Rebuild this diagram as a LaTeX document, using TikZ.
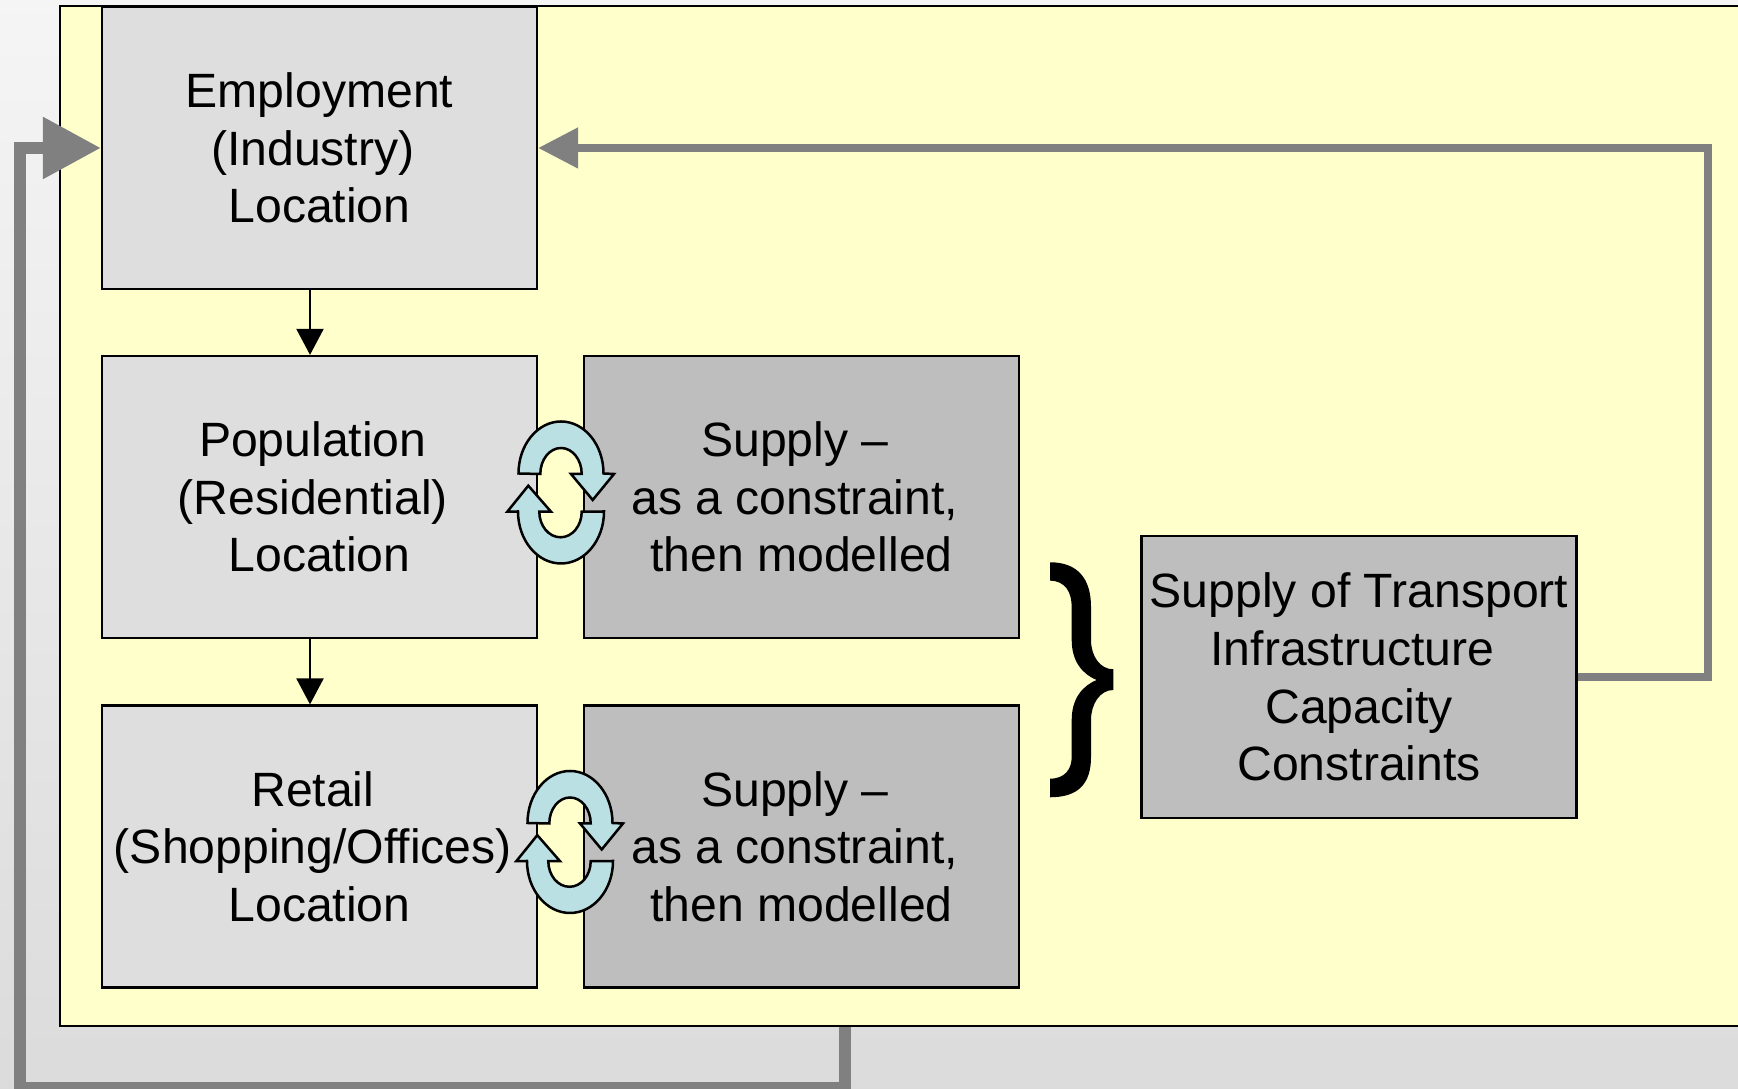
\documentclass[tikz,border=0pt]{standalone}
\usepackage{fontspec}
\setmainfont{Liberation Sans}
\usetikzlibrary{arrows.meta}
\definecolor{framefill}{HTML}{FFFFCC}
\definecolor{lightbox}{HTML}{DEDEDE}
\definecolor{darkbox}{HTML}{BEBEBE}
\definecolor{loopgrey}{HTML}{808080}
\definecolor{cyclefill}{HTML}{BBE0E3}
\newcommand{\trail}[1]{\mbox{#1\kern0.278em}}
\tikzset{
  labelbox/.style={draw=black,line width=0.22mm,minimum width=4.35cm,minimum height=2.82cm,inner sep=0pt,align=center,
    font=\fontsize{13.7}{16.4}\selectfont},
  landuse/.style={labelbox,fill=lightbox},
  supply/.style={labelbox,fill=darkbox},
  downarrow/.style={line width=0.22mm,-{Triangle[length=2.6mm,width=2.7mm]}},
  loopnarrow/.style={draw=loopgrey,line width=0.8mm,-{Triangle[length=4mm,width=3.9mm]},color=loopgrey},
  loopwide/.style={draw=loopgrey,line width=1.2mm,-{Triangle[length=5.8mm,width=5.9mm]},color=loopgrey},
  cyclearrows/.pic={
    \draw[fill=cyclefill,line width=0.25mm,line join=miter] (-.425,.19)
      arc[start angle=180,end angle=0,x radius=.425,y radius=.52]
      -- (.53,.185) -- (.317,-.075) -- (.10,.185) -- (.207,.185)
      arc[start angle=0,end angle=180,x radius=.207,y radius=.26] -- cycle;
    \draw[fill=cyclefill,line width=0.25mm,line join=miter] (.43,-.19)
      arc[start angle=0,end angle=-180,x radius=.43,y radius=.52]
      -- (-.537,-.192) -- (-.327,.068) -- (-.10,-.192) -- (-.217,-.192)
      arc[start angle=180,end angle=360,x radius=.212,y radius=.256] -- cycle;
  }
}
\begin{document}
\begin{tikzpicture}
  \useasboundingbox (0,0) rectangle (17.38,10.89);
  \shade[top color=white!96!black,bottom color=white!86!black] (0,0) rectangle (17.38,10.89);
  \node[draw=black,line width=0.25mm,fill=framefill,minimum width=18cm,minimum height=10.2cm,inner sep=0pt] (frame) at (9.6,5.73) {};

  \node[landuse] (employment) at (3.195,9.41) {Employment\\\trail{(Industry)}\\Location};
  \node[landuse] (population) at (3.195,5.92) {\trail{Population}\\\trail{(Residential)}\\Location};
  \node[landuse] (retail) at (3.195,2.425) {\trail{Retail}\\\trail{(Shopping/Offices)}\\Location};
  \node[supply] (supplypop) at (8.015,5.92) {\trail{Supply --}\\\trail{as a constraint,}\\then modelled};
  \node[supply] (supplyret) at (8.015,2.425) {\trail{Supply --}\\\trail{as a constraint,}\\then modelled};
  \node[supply] (transport) at (13.59,4.12) {Supply of Transport\\\trail{Infrastructure}\\Capacity\\Constraints};

  \coordinate (downx) at (3.10,0);
  \draw[downarrow] (employment.south -| downx) -- (population.north -| downx);
  \draw[downarrow] (population.south -| downx) -- (retail.north -| downx);

  \coordinate (rightturn) at (17.08,4.12);
  \draw[loopnarrow] (transport.east) -- (rightturn) |- (employment.east);
  \coordinate (tap) at (8.45,0.01);
  \coordinate (corner) at (.195,0.01);
  \draw[loopwide] (frame.south -| tap) -- (tap) -- (corner) |- (employment.west);

  \pic at (5.61,5.965) {cyclearrows};
  \pic at (5.70,2.47) {cyclearrows};

  \fill[black] (10.50,5.267) .. controls (10.78,5.267) and (10.91,5.1) .. (10.91,4.82)
    -- (10.91,4.49) .. controls (10.91,4.33) and (11.0,4.197) .. (11.133,4.197)
    -- (11.133,3.99) .. controls (11.0,3.99) and (10.91,3.85) .. (10.91,3.69)
    -- (10.91,3.32) .. controls (10.91,3.05) and (10.78,2.917) .. (10.50,2.917)
    -- (10.50,3.103) .. controls (10.65,3.103) and (10.717,3.2) .. (10.717,3.32)
    -- (10.717,3.69) .. controls (10.717,3.9) and (10.82,4.03) .. (10.967,4.09)
    .. controls (10.82,4.15) and (10.717,4.28) .. (10.717,4.49)
    -- (10.717,4.82) .. controls (10.717,4.97) and (10.65,5.083) .. (10.50,5.083) -- cycle;
\end{tikzpicture}
\end{document}
